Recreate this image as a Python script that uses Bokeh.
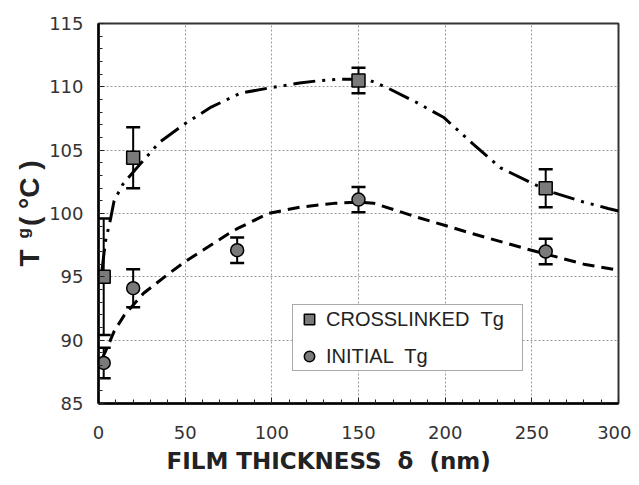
import numpy as np
from bokeh.plotting import figure
from bokeh.models import (ColumnDataSource, Whisker, TeeHead, Label, Legend, LegendItem,
                          SingleIntervalTicker, Range1d, Title)
from bokeh.embed import file_html
from bokeh.resources import INLINE

# ---- data ----
cross_x = [3, 20, 150, 258]
cross_y = [95.0, 104.4, 110.5, 102.0]
cross_err = [4.6, 2.4, 1.0, 1.5]

init_x = [3, 20, 80, 150, 258]
init_y = [88.2, 94.1, 97.1, 101.1, 97.0]
init_err = [1.2, 1.5, 1.0, 1.0, 1.0]

cross_fit_x = [2, 4, 7, 9, 14, 24, 35, 50, 65, 82, 98, 116, 128, 140, 150, 155, 167, 183, 199, 216, 232, 259, 280, 294, 300]
cross_fit_y = [95.5, 97.8, 99.6, 101.0, 102.3, 103.9, 105.6, 107.1, 108.4, 109.5, 109.9, 110.3, 110.5, 110.6, 110.6, 110.6, 109.9, 108.8, 107.6, 105.5, 103.6, 101.8, 100.9, 100.4, 100.2]

init_fit_x = [2, 5, 9, 15, 26, 40, 50, 59, 75, 80, 98, 116, 136, 150, 159, 184, 216, 247, 280, 297]
init_fit_y = [88.5, 89.4, 90.7, 92.0, 93.7, 95.2, 96.2, 97.0, 98.4, 98.8, 100.0, 100.5, 100.8, 100.9, 100.8, 99.7, 98.4, 97.2, 96.0, 95.6]

x_ticks_interval = 50
y_ticks_interval = 5

p = figure(width=631, height=477, output_backend="svg", toolbar_location=None,
           x_range=Range1d(0, 300), y_range=Range1d(85, 115),
           min_border_left=98, min_border_right=13, min_border_top=23, min_border_bottom=20)
p.background_fill_color = "white"
p.border_fill_color = "white"
p.outline_line_color = "#333333"
p.outline_line_width = 2

p.xaxis.ticker = SingleIntervalTicker(interval=x_ticks_interval, num_minor_ticks=5)
p.yaxis.ticker = SingleIntervalTicker(interval=y_ticks_interval, num_minor_ticks=5)
for ax in (p.xaxis[0], p.yaxis[0]):
    ax.axis_line_color = "black"
    ax.axis_line_width = 2.5
    ax.major_tick_in = 6
    ax.major_tick_out = 0
    ax.minor_tick_in = 4
    ax.minor_tick_out = 0
    ax.major_tick_line_color = "#222222"
    ax.minor_tick_line_color = "#222222"
    ax.major_label_text_font = "DejaVu Sans"
    ax.major_label_text_font_size = "18px"
    ax.major_label_text_color = "#333333"
p.xaxis.major_label_standoff = 22
p.yaxis.major_label_standoff = 15

p.grid.grid_line_color = "#9a9a9a"
p.grid.grid_line_dash = "2 2"
p.grid.grid_line_width = 1

# fitted curves
p.line(cross_fit_x, cross_fit_y, line_color="black", line_width=3, line_dash="22 7 3 7 3 7")
p.line(init_fit_x, init_fit_y, line_color="black", line_width=3, line_dash="12 7")

# error bars
cs = ColumnDataSource(dict(x=cross_x, y=cross_y,
                           upper=[a + b for a, b in zip(cross_y, cross_err)],
                           lower=[a - b for a, b in zip(cross_y, cross_err)]))
ins = ColumnDataSource(dict(x=init_x, y=init_y,
                            upper=[a + b for a, b in zip(init_y, init_err)],
                            lower=[a - b for a, b in zip(init_y, init_err)]))
for src in (cs, ins):
    w = Whisker(source=src, base="x", upper="upper", lower="lower", dimension="height",
                line_color="black", line_width=2,
                upper_head=TeeHead(size=14, line_width=2.5, line_color="black"),
                lower_head=TeeHead(size=14, line_width=2.5, line_color="black"))
    w.level = "underlay"
    p.add_layout(w)

r_cross = p.scatter("x", "y", source=cs, marker="square", size=13,
                    fill_color="#7a7a7a", line_color="black", line_width=1.5)
r_init = p.scatter("x", "y", source=ins, marker="circle", size=13,
                   fill_color="#7a7a7a", line_color="black", line_width=1.5)

legend = Legend(items=[LegendItem(label="CROSSLINKED \u00a0Tg", renderers=[r_cross]),
                       LegendItem(label="INITIAL \u00a0Tg", renderers=[r_init])],
                location=(194, 32), orientation="vertical",
                glyph_width=30, glyph_height=26, label_height=26, label_width=195,
                spacing=11, padding=1, margin=0, label_standoff=2,
                label_text_font="Liberation Sans", label_text_font_size="20px",
                label_text_color="#222222",
                border_line_color="#555555", border_line_width=1.5,
                background_fill_color="white", background_fill_alpha=1)
p.add_layout(legend, "center")

# x axis title
p.add_layout(Title(text="FILM THICKNESS \u00a0δ \u00a0(nm)", align="left", offset=68, standoff=8,
                   text_font="DejaVu Sans", text_font_style="bold", text_font_size="23px",
                   text_color="#222222"), "below")

# y axis title: "T ... ( °C )" in the left side panel, subscript "g" in the top panel
p.add_layout(Label(x=14, y=137, x_units="screen", y_units="screen",
                   text="T\u00a0\u00a0\u00a0( °C )", angle=np.pi / 2,
                   text_align="left", text_baseline="alphabetic", text_font="Liberation Sans",
                   text_font_style="bold", text_font_size="28px", text_color="#222222"), "left")
p.add_layout(Label(x=-75, y=-215, x_units="screen", y_units="screen", text="g", angle=np.pi / 2,
                   text_align="left", text_baseline="alphabetic", text_font="Liberation Sans",
                   text_font_style="bold", text_font_size="17px", text_color="#222222"), "above")

open("out.html", "w").write(file_html(p, INLINE))
